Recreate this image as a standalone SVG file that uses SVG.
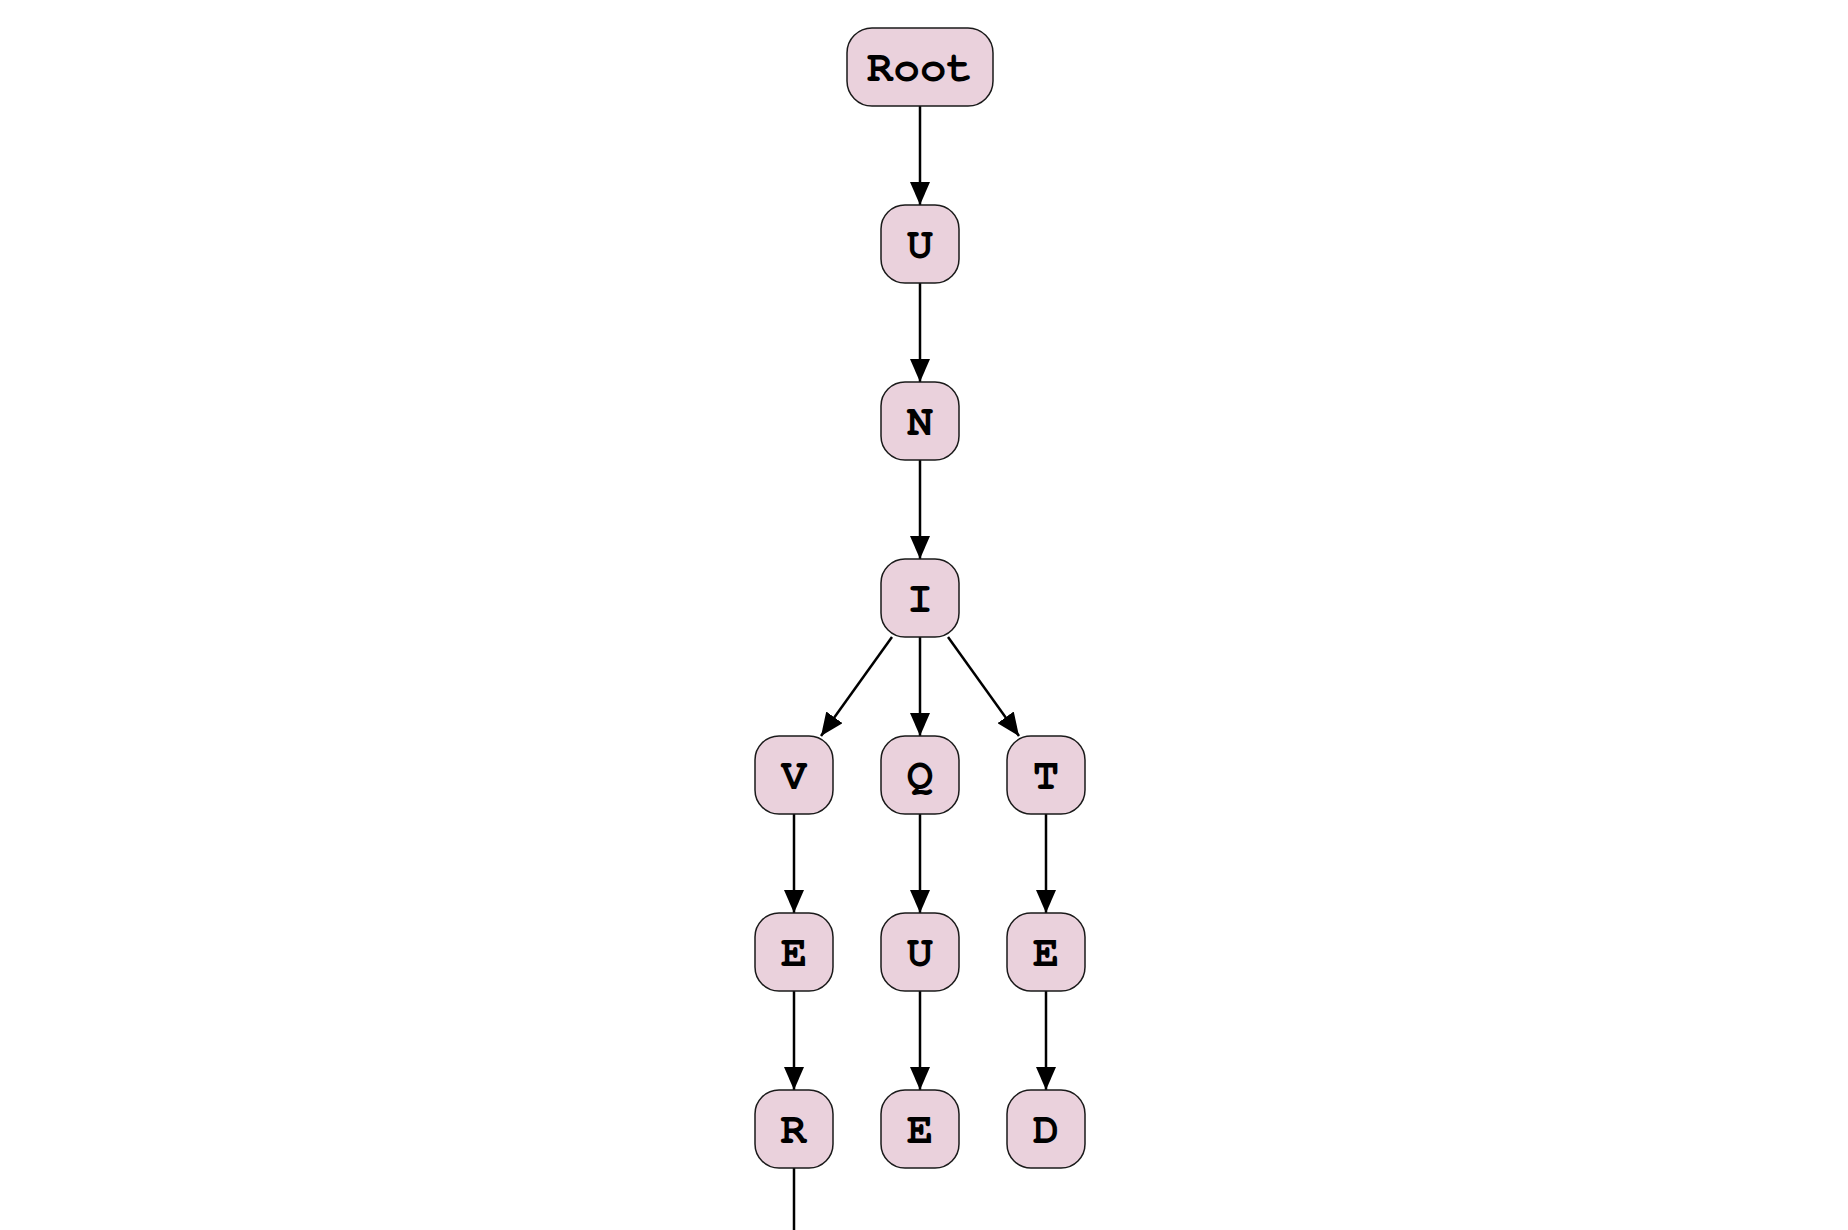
<svg xmlns="http://www.w3.org/2000/svg" width="1848" height="1230" viewBox="0 0 1848 1230">
<defs>
<style>
.n rect{fill:#ead1dc;stroke:#1a1a1a;stroke-width:1.5}
.n text{font-family:"Nimbus Mono PS","FreeMono","Liberation Mono","Courier New",monospace;font-weight:bold;font-size:44px;fill:#000;text-anchor:middle}
.e line{stroke:#000;stroke-width:2.5;fill:none}
.e .a{marker-end:url(#ah)}
</style>
<marker id="ah" markerUnits="userSpaceOnUse" markerWidth="24" markerHeight="20" refX="23" refY="10" orient="auto">
<path d="M0,0 L23,10 L0,20 Z" fill="#000"/>
</marker>
</defs>
<rect width="1848" height="1230" fill="#fff"/>
<g id="edges" class="e">
<line class="a" x1="920" y1="106" x2="920" y2="205"/>
<line class="a" x1="920" y1="283" x2="920" y2="382"/>
<line class="a" x1="920" y1="460" x2="920" y2="559"/>
<line class="a" x1="892" y1="637" x2="821" y2="736"/>
<line class="a" x1="920" y1="637" x2="920" y2="736"/>
<line class="a" x1="948" y1="637" x2="1019" y2="736"/>
<line class="a" x1="794" y1="814" x2="794" y2="913"/>
<line class="a" x1="920" y1="814" x2="920" y2="913"/>
<line class="a" x1="1046" y1="814" x2="1046" y2="913"/>
<line class="a" x1="794" y1="991" x2="794" y2="1090"/>
<line class="a" x1="920" y1="991" x2="920" y2="1090"/>
<line class="a" x1="1046" y1="991" x2="1046" y2="1090"/>
<line x1="794" y1="1168" x2="794" y2="1240"/>
</g>
<g id="root" class="n"><rect x="847" y="28" width="146" height="78" rx="25"/><text x="920" y="81">Root</text></g>
<g id="u1" class="n"><rect x="881" y="205" width="78" height="78" rx="24"/><text x="920" y="258">U</text></g>
<g id="n1" class="n"><rect x="881" y="382" width="78" height="78" rx="24"/><text x="920" y="435">N</text></g>
<g id="i1" class="n"><rect x="881" y="559" width="78" height="78" rx="24"/><text x="920" y="612">I</text></g>
<g id="v1" class="n"><rect x="755" y="736" width="78" height="78" rx="24"/><text x="794" y="789">V</text></g>
<g id="q1" class="n"><rect x="881" y="736" width="78" height="78" rx="24"/><text x="920" y="789">Q</text></g>
<g id="t1" class="n"><rect x="1007" y="736" width="78" height="78" rx="24"/><text x="1046" y="789">T</text></g>
<g id="e1" class="n"><rect x="755" y="913" width="78" height="78" rx="24"/><text x="794" y="966">E</text></g>
<g id="u2" class="n"><rect x="881" y="913" width="78" height="78" rx="24"/><text x="920" y="966">U</text></g>
<g id="e2" class="n"><rect x="1007" y="913" width="78" height="78" rx="24"/><text x="1046" y="966">E</text></g>
<g id="r1" class="n"><rect x="755" y="1090" width="78" height="78" rx="24"/><text x="794" y="1143">R</text></g>
<g id="e3" class="n"><rect x="881" y="1090" width="78" height="78" rx="24"/><text x="920" y="1143">E</text></g>
<g id="d1" class="n"><rect x="1007" y="1090" width="78" height="78" rx="24"/><text x="1046" y="1143">D</text></g>
</svg>
